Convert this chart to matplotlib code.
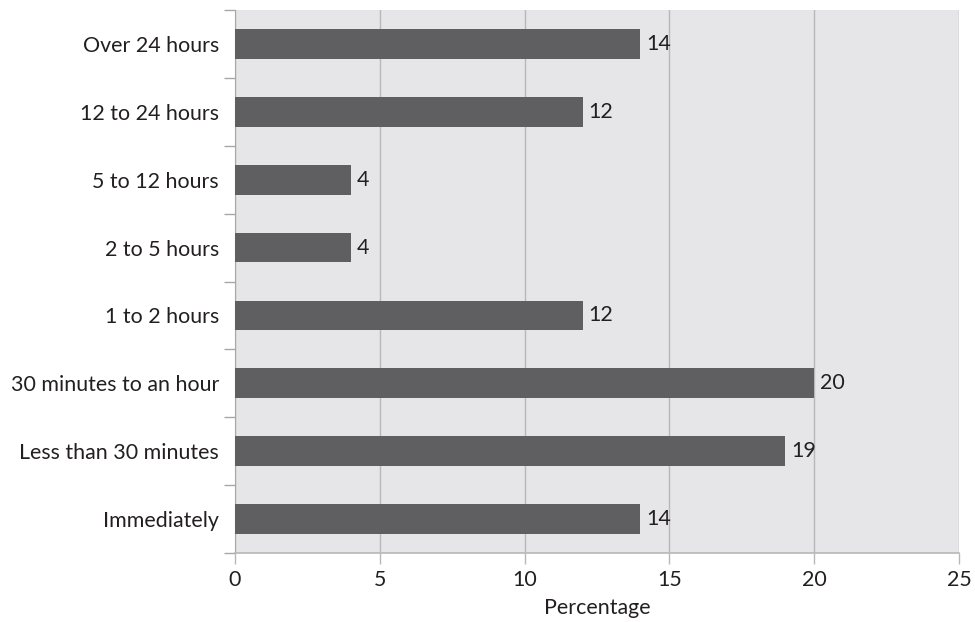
import matplotlib
matplotlib.use("Agg")
import matplotlib.pyplot as plt
import numpy as np

categories = ["Immediately", "Less than 30 minutes", "30 minutes to an hour", "1 to 2 hours",
              "2 to 5 hours", "5 to 12 hours", "12 to 24 hours", "Over 24 hours"]
values = [14, 19, 20, 12, 4, 4, 12, 14]
xticks = [0, 5, 10, 15, 20, 25]

plt.rcParams['font.family'] = ['Lato', 'DejaVu Sans']
text_color = "#231f20"
fs = 15.4

fig = plt.figure(figsize=(9.75, 6.22), dpi=100)
ax = fig.add_axes([235/975, 1-553/622, (959-235)/975, (553-10)/622])
ax.set_facecolor("#e6e6e8")

y = np.arange(len(categories))
ax.barh(y, values, height=0.44, color="#5f5f61", zorder=3)
for yi, v in zip(y, values):
    ax.text(v + 0.2, yi, f"{v}", va="center", ha="left", fontsize=fs, color=text_color, zorder=4)

ax.set_xlim(0, 25)
ax.set_ylim(-0.5, len(categories) - 0.5)
ax.set_xticks(xticks)
ax.set_xticklabels([str(t) for t in xticks], fontsize=fs, color=text_color)
ax.set_yticks(y)
ax.set_yticklabels(categories, fontsize=fs, color=text_color)
ax.tick_params(axis='y', which='major', length=0, pad=11.5)
ax.set_yticks(np.arange(-0.5, len(categories)), minor=True)
ax.tick_params(axis='y', which='minor', length=8, color="#a8a8a8", width=1)
ax.tick_params(axis='x', which='major', length=8, color="#b8b8b8", width=1, pad=4)

ax.grid(axis='x', color="#b8b8b8", linewidth=1, zorder=1)
ax.set_axisbelow(True)
for s in ["top", "right"]:
    ax.spines[s].set_visible(False)
ax.spines["left"].set_color("#a8a8a8")
ax.spines["bottom"].set_color("#b8b8b8")
ax.spines["bottom"].set_linewidth(1.2)

ax.set_xlabel("Percentage", fontsize=fs, color=text_color, labelpad=6)

fig.savefig("out.png", dpi=100, facecolor="white")
